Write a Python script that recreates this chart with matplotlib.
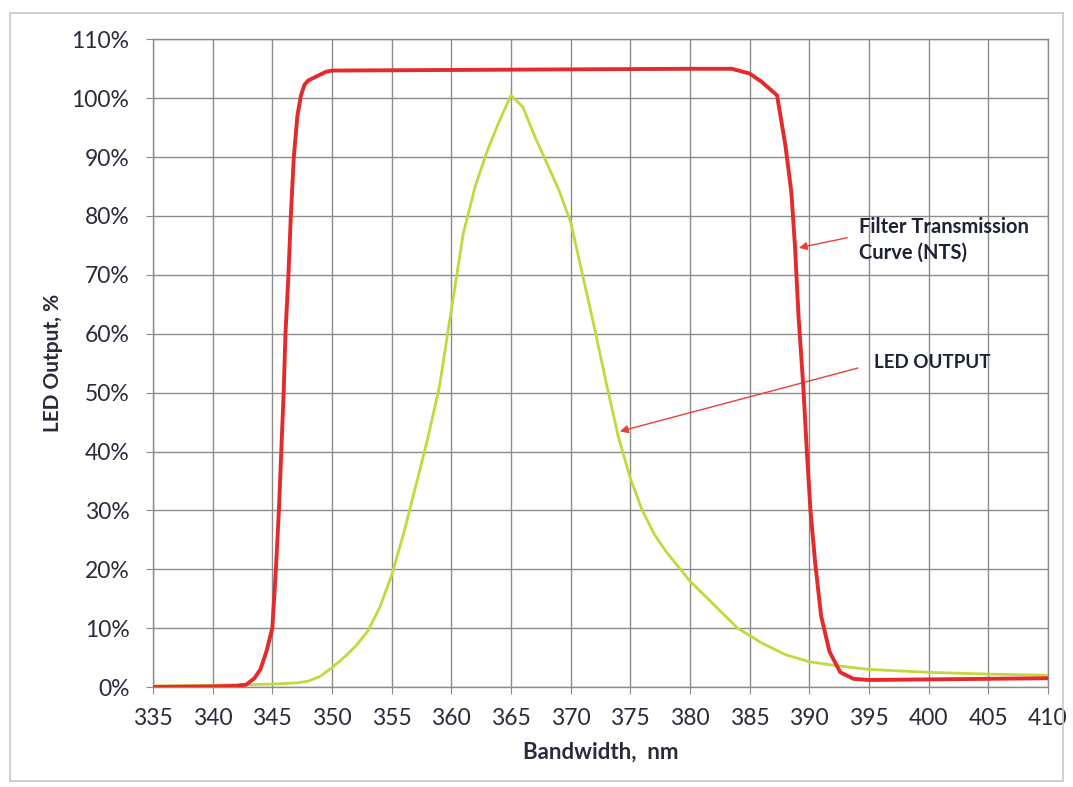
import matplotlib
matplotlib.use("Agg")
from matplotlib import pyplot as plt
from matplotlib.patches import Rectangle
from matplotlib.ticker import FuncFormatter

# filter transmission curve (NTS), %
filter_nm = [335, 340, 342, 342.8, 343.5, 344, 344.5, 345, 345.3, 345.55, 345.75, 345.95, 346.1,
             346.35, 346.55, 346.8, 347.1, 347.4, 347.7, 348, 348.5, 349, 349.5,
             350, 360, 370, 380, 383.5, 385, 386, 387.3, 388, 388.5, 388.8, 389.1, 389.5,
             389.8, 390.1, 390.5, 391, 391.7, 392.6, 393.7, 395, 400, 410]
filter_pct = [0, 0.1, 0.2, 0.4, 1.5, 3, 6, 10, 20, 30, 40, 50, 60,
              70, 80, 90, 97, 100.5, 102.3, 103, 103.5, 104, 104.5,
              104.7, 104.8, 104.9, 105, 105, 104.2, 102.8, 100.5, 92, 84, 75, 63, 51,
              40, 30, 21, 12, 6, 2.5, 1.4, 1.2, 1.3, 1.5]

# LED output, %
led_nm = [335, 340, 345, 347, 348, 349, 350, 351, 352, 353, 354, 355, 356, 357, 358, 359,
          360, 361, 362, 363, 364, 365, 366, 367, 368, 369, 370, 371, 372, 373, 374, 375,
          376, 377, 378, 379, 380, 382, 384, 386, 388, 390, 392, 395, 400, 405, 410]
led_pct = [0.2, 0.3, 0.5, 0.7, 1.0, 1.8, 3.3, 5, 7, 9.5, 13.5, 19, 26, 34, 42, 51,
           64, 77, 85, 91, 96, 100.5, 98.5, 93.5, 89, 84.5, 79, 70, 61, 51.5, 42.5, 35.5,
           30, 26, 23, 20.5, 18, 14, 10, 7.5, 5.5, 4.3, 3.7, 3, 2.5, 2.2, 2]

x_ticks = list(range(335, 411, 5))
y_ticks = list(range(0, 111, 10))

plt.rcParams['font.family'] = ['Lato', 'DejaVu Sans']
text_color = "#2a2a3c"

fig = plt.figure(figsize=(10.73, 7.87), dpi=100)
ax = fig.add_axes([0.1426, 0.127, 0.834, 0.823])

# scanned page border
fig.patches.append(Rectangle((0.009, 0.008), 0.982, 0.975, transform=fig.transFigure,
                             fill=False, edgecolor="#c8c8c8", linewidth=1.2))

ax.plot(led_nm, led_pct, color="#c3d83c", linewidth=2, zorder=3)
ax.plot(filter_nm, filter_pct, color="#e42a2c", linewidth=2.8, zorder=4)

ax.set_xlim(335, 410)
ax.set_ylim(0, 110)
ax.set_xticks(x_ticks)
ax.set_yticks(y_ticks)
ax.yaxis.set_major_formatter(FuncFormatter(lambda v, p: f"{v:.0f}%"))
ax.grid(True, color="#8c8c8c", linewidth=1)
ax.set_axisbelow(True)
for s in ax.spines.values():
    s.set_color("#8c8c8c")
    s.set_linewidth(1)
ax.tick_params(axis="both", colors="#8c8c8c", labelcolor=text_color, labelsize=16.5, length=5)
ax.tick_params(axis="x", pad=10)
ax.tick_params(axis="y", pad=12)

ax.set_xlabel("Bandwidth,  nm", fontsize=16, fontweight="bold", color=text_color, labelpad=9)
ax.set_ylabel("LED Output, %", fontsize=15, fontweight="bold", color=text_color, labelpad=6)

ax.annotate("", xy=(388.9, 74.5), xytext=(393.4, 76.4),
            arrowprops=dict(arrowstyle="-|>", color="#e8403a", lw=1, mutation_scale=12))
ax.text(394.2, 76.0, "Filter Transmission\nCurve (NTS)", fontsize=14.5, fontweight="bold",
        color="#1e2236", va="center", ha="left", linespacing=1.35)

ax.annotate("", xy=(373.9, 43.3), xytext=(394.3, 54.3),
            arrowprops=dict(arrowstyle="-|>", color="#e8403a", lw=1, mutation_scale=12))
ax.text(395.4, 55.2, "LED OUTPUT", fontsize=13.5, fontweight="bold",
        color="#1e2236", va="center", ha="left")

plt.savefig("out.png", dpi=100)
